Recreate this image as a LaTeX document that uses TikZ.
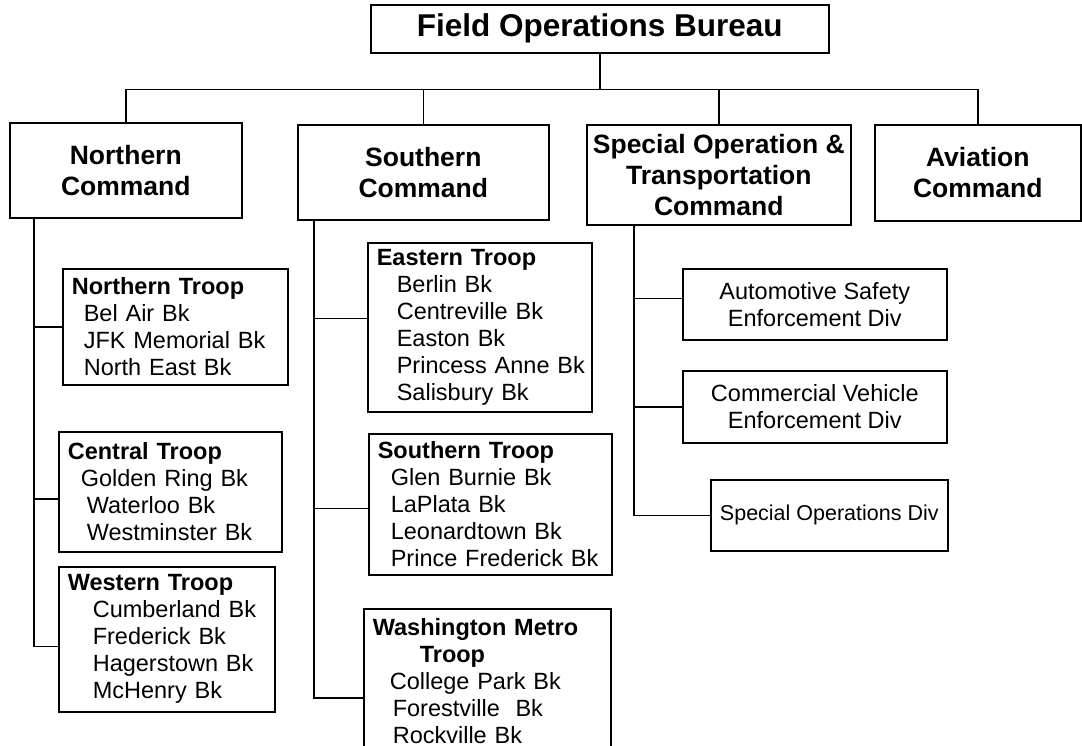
\documentclass[tikz,border=0pt]{standalone}
\usepackage{fontspec}
\setmainfont{Liberation Sans}
\usepackage{tikz}

\begin{document}
\begin{tikzpicture}[x=1pt,y=-1pt,line width=1.6pt,
  every node/.style={draw,line width=1.6pt,inner sep=0pt,anchor=north west},
  cmdbox/.style={align=center,font=\fontsize{26.5}{31}\selectfont\bfseries},
  troopbox/.style={align=left,inner xsep=4pt,font=\fontsize{23.5}{27}\selectfont},
  divbox/.style={align=center,font=\fontsize{23.5}{27}\selectfont},]

  \useasboundingbox (0,0) rectangle (1082,746);

  % bureau
  \node[cmdbox,font=\fontsize{31.5}{34}\selectfont\bfseries,
    minimum width=458pt,minimum height=48pt] (fob) at (370,4) {Field Operations Bureau};

  % commands
  \node[cmdbox,minimum width=232pt,minimum height=95pt] (ncmd) at (9,122) {Northern\\Command};
  \node[cmdbox,minimum width=251pt,minimum height=95pt] (scmd) at (297,124) {Southern\\Command};
  \node[cmdbox,minimum width=264pt,minimum height=100pt] (spec) at (586,124)
    {Special Operation \&\\Transportation\\Command};
  \node[cmdbox,minimum width=206pt,minimum height=96pt] (avi) at (874,124) {Aviation\\Command};

  \path (fob.south) ++(0,36) coordinate (bar);
  \draw (fob.south) -- (bar);
  \draw (ncmd.north) |- (bar) -| (avi.north);
  \draw (scmd.north) -- (scmd.north |- bar);
  \draw (spec.north) -- (spec.north |- bar);

  % northern command troops
  \node[troopbox,text width=217pt,minimum height=116pt] (ntroop) at (62,268)
    {\hspace*{5pt}\textbf{Northern Troop}\\
     \hspace*{17pt}Bel Air Bk\\
     \hspace*{17pt}JFK Memorial Bk\\
     \hspace*{17pt}North East Bk};
  \node[troopbox,text width=215pt,minimum height=120pt] (ctroop) at (58,431)
    {\hspace*{5pt}\textbf{Central Troop}\\
     \hspace*{18pt}Golden Ring Bk\\
     \hspace*{24pt}Waterloo Bk\\
     \hspace*{24pt}Westminster Bk};
  \node[troopbox,text width=208pt,minimum height=145pt] (wtroop) at (58,566)
    {\hspace*{5pt}\textbf{Western Troop}\\
     \hspace*{30pt}Cumberland Bk\\
     \hspace*{30pt}Frederick Bk\\
     \hspace*{30pt}Hagerstown Bk\\
     \hspace*{30pt}McHenry Bk};

  \coordinate (nspine) at (34,217);
  \coordinate (cjoin) at ([yshift=-7pt]ctroop.west);
  \coordinate (wjoin) at ([yshift=-7pt]wtroop.west);
  \draw (nspine) |- (wjoin);
  \draw (nspine |- ntroop.west) -- (ntroop.west);
  \draw (nspine |- cjoin) -- (cjoin);

  % southern command troops
  \node[troopbox,text width=216pt,minimum height=169pt] (etroop) at (367,242)
    {\hspace*{5pt}\textbf{Eastern Troop}\\
     \hspace*{25pt}Berlin Bk\\
     \hspace*{25pt}Centreville Bk\\
     \hspace*{25pt}Easton Bk\\
     \hspace*{25pt}Princess Anne Bk\\
     \hspace*{25pt}Salisbury Bk};
  \node[troopbox,text width=235pt,minimum height=141pt] (stroop) at (368,433)
    {\hspace*{5pt}\textbf{Southern Troop}\\
     \hspace*{18pt}Glen Burnie Bk\\
     \hspace*{18pt}LaPlata Bk\\
     \hspace*{18pt}Leonardtown Bk\\
     \hspace*{18pt}Prince Frederick Bk};
  \node[troopbox,text width=239pt,minimum height=144pt] (mtroop) at (363,608)
    {\hspace*{5pt}\textbf{Washington Metro}\\
     \hspace*{52pt}\textbf{Troop}\\
     \hspace*{22pt}College Park Bk\\
     \hspace*{25pt}Forestville\ \ Bk\\
     \hspace*{25pt}Rockville Bk};

  \coordinate (sspine) at (314,219);
  \coordinate (ejoin) at ([yshift=9pt]etroop.west);
  \coordinate (sjoin) at ([yshift=-4pt]stroop.west);
  \coordinate (mjoin) at ([yshift=-17pt]mtroop.west);
  \draw (sspine) |- (mjoin);
  \draw (sspine |- ejoin) -- (ejoin);
  \draw (sspine |- sjoin) -- (sjoin);

  % special operation divisions
  \node[divbox,minimum width=264pt,minimum height=71pt] (asediv) at (682,268)
    {Automotive Safety\\Enforcement Div};
  \node[divbox,minimum width=264pt,minimum height=72pt] (cvediv) at (682,370)
    {Commercial Vehicle\\Enforcement Div};
  \node[divbox,font=\fontsize{21.5}{25}\selectfont,
    minimum width=237pt,minimum height=71pt] (sodiv) at (710,479)
    {Special Operations Div};

  \coordinate (xspine) at (634,224);
  \coordinate (ajoin) at ([yshift=6pt]asediv.west);
  \draw (xspine) |- (sodiv.west);
  \draw (xspine |- ajoin) -- (ajoin);
  \draw (xspine |- cvediv.west) -- (cvediv.west);

\end{tikzpicture}
\end{document}
